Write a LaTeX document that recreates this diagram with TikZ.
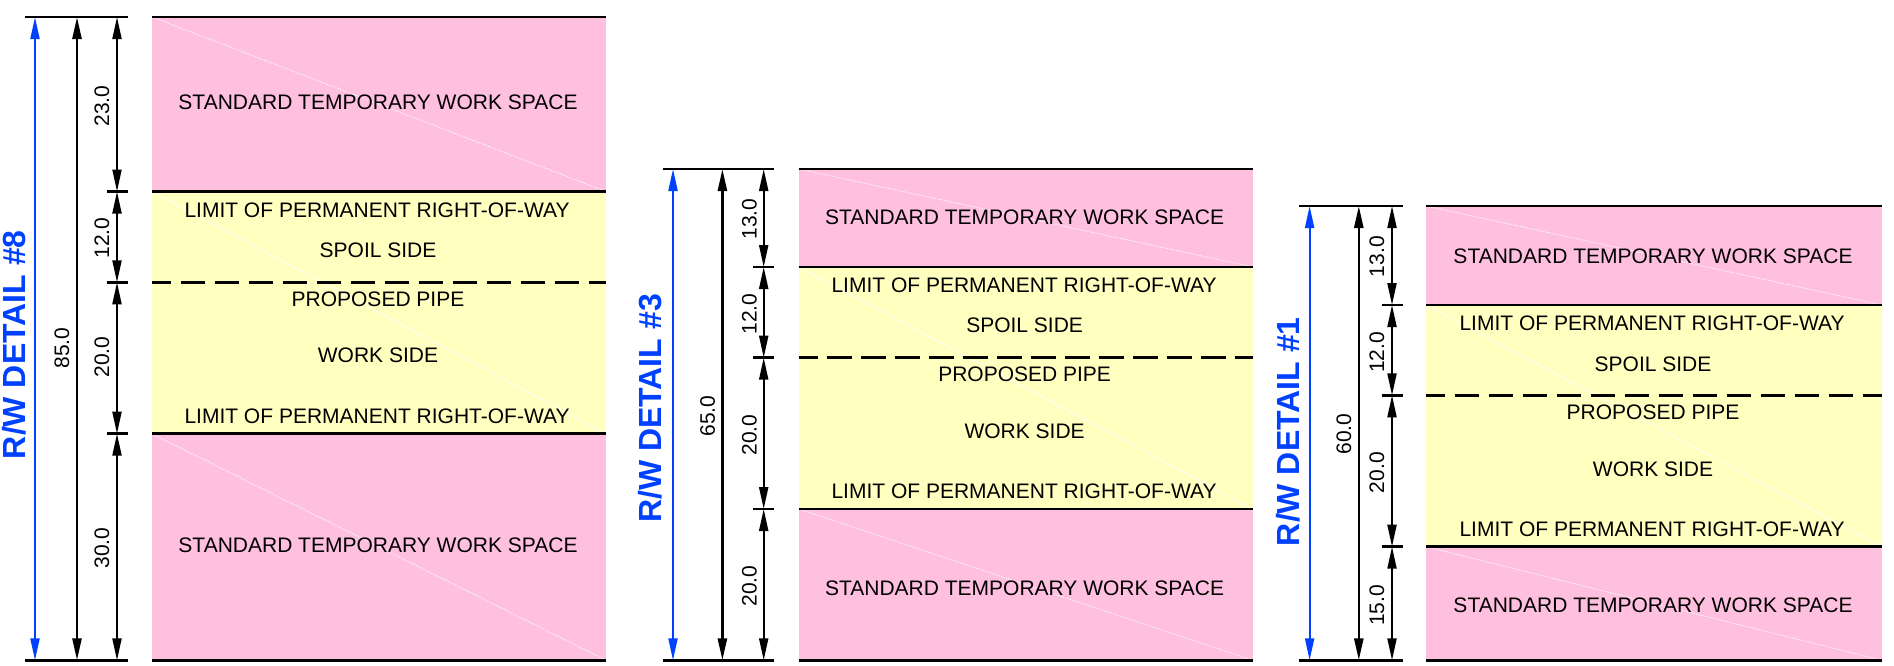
\documentclass[tikz,border=0pt]{standalone}
\usepackage{fontspec}
\setsansfont{Liberation Sans}
\usetikzlibrary{arrows.meta}
\definecolor{tws}{HTML}{FFBFDF}
\definecolor{row}{HTML}{FFFFBF}
\definecolor{rwblue}{HTML}{0040FF}
\tikzset{
	lbl/.style={inner sep=0pt,yshift=-1pt,font=\sffamily\fontsize{21}{24}\selectfont},
	dimlbl/.style={lbl,rotate=90},
	title/.style={inner sep=0pt,rotate=90,text=rwblue,font=\sffamily\bfseries\fontsize{32}{36}\selectfont},
	dimline/.style={line width=2pt,{Triangle[length=22pt,width=9pt]}-{Triangle[length=22pt,width=9pt]}},
	bigdim/.style={dimline,line width=2.6pt},
	rwdim/.style={dimline,rwblue},
	limit/.style={line width=2.6pt},
	pipe/.style={limit,dash pattern=on 24.5pt off 9.5pt,dash phase=5.5pt},
	diagp/.style={white,line width=0.8pt,dash pattern=on 1.2pt off 1.2pt},
	diagy/.style={white,line width=0.7pt}
}
\begin{document}
\begin{tikzpicture}[x=1pt,y=-1pt]
	\useasboundingbox (0,0) rectangle (1894,665);

	%DETAIL 8
	\fill[tws] (152,17) rectangle (606,191.5);
	\fill[row] (152,191.5) rectangle (606,433.7);
	\fill[tws] (152,433.7) rectangle (606,660.3);
	\draw[diagp] (152,17) -- (606,191.5);
	\draw[diagy] (152,191.5) -- (606,433.7);
	\draw[diagp] (152,433.7) -- (606,660.3);
	\draw[limit] (152,17) -- (606,17);
	\draw[limit] (152,191.5) -- (606,191.5);
	\draw[pipe] (152,282.3) -- (606,282.3);
	\draw[limit] (152,433.7) -- (606,433.7);
	\draw[limit] (152,660.3) -- (606,660.3);
	%ticks
	\draw[limit] (25,17) -- (127.7,17);
	\draw[limit] (25,660.3) -- (127.7,660.3);
	\draw[limit] (106.7,191.5) -- (127.7,191.5);
	\draw[limit] (106.7,282.3) -- (127.7,282.3);
	\draw[limit] (106.7,433.7) -- (127.7,433.7);
	%dimensions
	\coordinate (rwtop8) at (35,17);
	\coordinate (rwbot8) at (35,660.3);
	\coordinate (alltop8) at (77,17);
	\coordinate (allbot8) at (77,660.3);
	\coordinate (a8) at (117,17);
	\coordinate (b8) at (117,191.5);
	\coordinate (c8) at (117,282.3);
	\coordinate (d8) at (117,433.7);
	\coordinate (e8) at (117,660.3);
	\draw[rwdim] (rwtop8) -- (rwbot8);
	\draw[bigdim] (alltop8) -- (allbot8);
	\draw[dimline] (a8) -- (b8);
	\draw[dimline] (b8) -- (c8);
	\draw[dimline] (c8) -- (d8);
	\draw[dimline] (d8) -- (e8);
	%labels
	\node[title] (title8) at (14,344.7) {R/W DETAIL \#8};
	\node[dimlbl] (all8) at (62,347) {85.0};
	\node[dimlbl] (ab8) at (102,105) {23.0};
	\node[dimlbl] (bc8) at (102,237) {12.0};
	\node[dimlbl] (cd8) at (102,356) {20.0};
	\node[dimlbl] (de8) at (102,547) {30.0};
	\node[lbl] (twsa8) at (378,101.7) {STANDARD TEMPORARY WORK SPACE};
	\node[lbl] (lima8) at (377,209.7) {LIMIT OF PERMANENT RIGHT-OF-WAY};
	\node[lbl] (spoil8) at (378,249.7) {SPOIL SIDE};
	\node[lbl] (prop8) at (378,298.3) {PROPOSED PIPE};
	\node[lbl] (work8) at (378,354.7) {WORK SIDE};
	\node[lbl] (limb8) at (377,415.7) {LIMIT OF PERMANENT RIGHT-OF-WAY};
	\node[lbl] (twsb8) at (378,544.3) {STANDARD TEMPORARY WORK SPACE};

	%DETAIL 3
	\fill[tws] (798.5,169) rectangle (1253,267);
	\fill[row] (798.5,267) rectangle (1253,509);
	\fill[tws] (798.5,509) rectangle (1253,660.3);
	\draw[diagp] (798.5,169) -- (1253,267);
	\draw[diagy] (798.5,267) -- (1253,509);
	\draw[diagp] (798.5,509) -- (1253,660.3);
	\draw[limit] (798.5,169) -- (1253,169);
	\draw[limit] (798.5,267) -- (1253,267);
	\draw[pipe] (798.5,357.7) -- (1253,357.7);
	\draw[limit] (798.5,509) -- (1253,509);
	\draw[limit] (798.5,660.3) -- (1253,660.3);
	%ticks
	\draw[limit] (662.7,169) -- (774.4,169);
	\draw[limit] (662.7,660.3) -- (774.4,660.3);
	\draw[limit] (753.4,267) -- (774.4,267);
	\draw[limit] (753.4,357.7) -- (774.4,357.7);
	\draw[limit] (753.4,509) -- (774.4,509);
	%dimensions
	\coordinate (rwtop3) at (673,169);
	\coordinate (rwbot3) at (673,660.3);
	\coordinate (alltop3) at (722.4,169);
	\coordinate (allbot3) at (722.4,660.3);
	\coordinate (a3) at (763.7,169);
	\coordinate (b3) at (763.7,267);
	\coordinate (c3) at (763.7,357.7);
	\coordinate (d3) at (763.7,509);
	\coordinate (e3) at (763.7,660.3);
	\draw[rwdim] (rwtop3) -- (rwbot3);
	\draw[bigdim] (alltop3) -- (allbot3);
	\draw[dimline] (a3) -- (b3);
	\draw[dimline] (b3) -- (c3);
	\draw[dimline] (c3) -- (d3);
	\draw[dimline] (d3) -- (e3);
	%labels
	\node[title] (title3) at (650.6,408.5) {R/W DETAIL \#3};
	\node[dimlbl] (all3) at (707.7,415) {65.0};
	\node[dimlbl] (ab3) at (749.4,218) {13.0};
	\node[dimlbl] (bc3) at (749.4,313) {12.0};
	\node[dimlbl] (cd3) at (749.4,434) {20.0};
	\node[dimlbl] (de3) at (749.4,585) {20.0};
	\node[lbl] (twsa3) at (1024.6,216.3) {STANDARD TEMPORARY WORK SPACE};
	\node[lbl] (lima3) at (1024,284.7) {LIMIT OF PERMANENT RIGHT-OF-WAY};
	\node[lbl] (spoil3) at (1024.6,324.7) {SPOIL SIDE};
	\node[lbl] (prop3) at (1024.6,373.3) {PROPOSED PIPE};
	\node[lbl] (work3) at (1024.6,430.3) {WORK SIDE};
	\node[lbl] (limb3) at (1024,490.7) {LIMIT OF PERMANENT RIGHT-OF-WAY};
	\node[lbl] (twsb3) at (1024.6,587.7) {STANDARD TEMPORARY WORK SPACE};

	%DETAIL 1
	\fill[tws] (1426,206) rectangle (1882,305);
	\fill[row] (1426,305) rectangle (1882,546.7);
	\fill[tws] (1426,546.7) rectangle (1882,660.3);
	\draw[diagp] (1426,206) -- (1882,305);
	\draw[diagy] (1426,305) -- (1882,546.7);
	\draw[diagp] (1426,546.7) -- (1882,660.3);
	\draw[limit] (1426,206) -- (1882,206);
	\draw[limit] (1426,305) -- (1882,305);
	\draw[pipe] (1426,395.3) -- (1882,395.3);
	\draw[limit] (1426,546.7) -- (1882,546.7);
	\draw[limit] (1426,660.3) -- (1882,660.3);
	%ticks
	\draw[limit] (1299.4,206) -- (1402.7,206);
	\draw[limit] (1299.4,660.3) -- (1402.7,660.3);
	\draw[limit] (1381.7,305) -- (1402.7,305);
	\draw[limit] (1381.7,395.3) -- (1402.7,395.3);
	\draw[limit] (1381.7,546.7) -- (1402.7,546.7);
	%dimensions
	\coordinate (rwtop1) at (1309.6,206);
	\coordinate (rwbot1) at (1309.6,660.3);
	\coordinate (alltop1) at (1358.8,206);
	\coordinate (allbot1) at (1358.8,660.3);
	\coordinate (a1) at (1392,206);
	\coordinate (b1) at (1392,305);
	\coordinate (c1) at (1392,395.3);
	\coordinate (d1) at (1392,546.7);
	\coordinate (e1) at (1392,660.3);
	\draw[rwdim] (rwtop1) -- (rwbot1);
	\draw[bigdim] (alltop1) -- (allbot1);
	\draw[dimline] (a1) -- (b1);
	\draw[dimline] (b1) -- (c1);
	\draw[dimline] (c1) -- (d1);
	\draw[dimline] (d1) -- (e1);
	%labels
	\node[title] (title1) at (1288,431.7) {R/W DETAIL \#1};
	\node[dimlbl] (all1) at (1344,433) {60.0};
	\node[dimlbl] (ab1) at (1377,255.7) {13.0};
	\node[dimlbl] (bc1) at (1377,351.3) {12.0};
	\node[dimlbl] (cd1) at (1377,471.7) {20.0};
	\node[dimlbl] (de1) at (1377,604.3) {15.0};
	\node[lbl] (twsa1) at (1653,255.7) {STANDARD TEMPORARY WORK SPACE};
	\node[lbl] (lima1) at (1652,322.7) {LIMIT OF PERMANENT RIGHT-OF-WAY};
	\node[lbl] (spoil1) at (1653,363) {SPOIL SIDE};
	\node[lbl] (prop1) at (1653,411.7) {PROPOSED PIPE};
	\node[lbl] (work1) at (1653,468.7) {WORK SIDE};
	\node[lbl] (limb1) at (1652,528.7) {LIMIT OF PERMANENT RIGHT-OF-WAY};
	\node[lbl] (twsb1) at (1653,604.7) {STANDARD TEMPORARY WORK SPACE};
\end{tikzpicture}
\end{document}
